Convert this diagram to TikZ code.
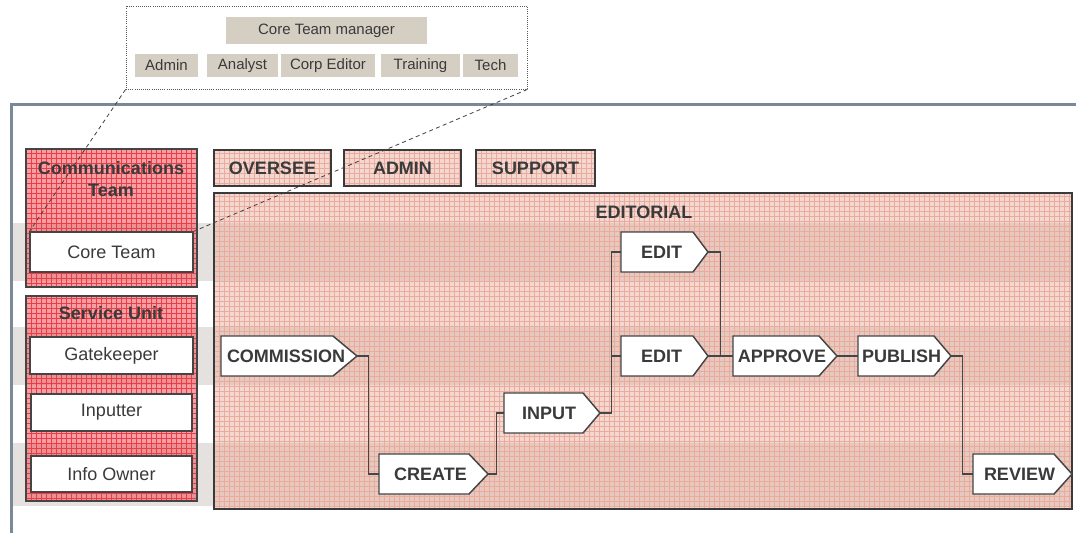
\documentclass[tikz,border=0pt]{standalone}
\usepackage{fontspec}
\setmainfont{Liberation Sans}
\usetikzlibrary{fit}
\definecolor{txt}{HTML}{3A3A3A}
\definecolor{boxline}{HTML}{454545}
\definecolor{frameblue}{HTML}{7A8898}
\definecolor{bandgray}{RGB}{228,225,222}
\definecolor{redfill}{RGB}{238,80,90}
\definecolor{redgrid}{RGB}{236,60,70}
\definecolor{pinkfill}{RGB}{232,178,164}
\definecolor{pinkgrid}{RGB}{236,170,155}
\definecolor{beigefill}{RGB}{213,207,195}
\newcommand\procn[6]{%
  \filldraw[procline] (#2,#5) -- (#3,#5) -- (#4,#5+20) -- (#3,#5+40) -- (#2,#5+40) -- cycle;
  \node[fit={(#2,#5) (#4,#5+40)}, inner sep=0pt] (#1) {};
  \node[proclabel] at ({(#2+#4)/2-3},#5+20) {#6};
}
\newcommand\boxtext[3]{\node[#1] at (#2.center) {#3};}
\tikzset{
  redbox/.style={fill=redfill, fill opacity=0.55, draw=boxline, draw opacity=1, line width=0.8pt, inner sep=0pt,
    path picture={\draw[redgrid, line width=0.3pt, step=3.75pt] (path picture bounding box.south west) grid (path picture bounding box.north east);}},
  pinkbox/.style={fill=pinkfill, fill opacity=0.5, draw=txt, draw opacity=1, line width=2.2pt, inner sep=0pt,
    path picture={\draw[pinkgrid, line width=0.3pt, step=3.75pt] (path picture bounding box.south west) grid (path picture bounding box.north east);}},
  wbox/.style={fill=white, draw=boxline, line width=0.9pt, inner sep=0pt},
  wtext/.style={font=\fontsize{13.5}{16}\selectfont, text=txt, inner sep=0pt},
  btext/.style={font=\fontsize{13.5}{16}\selectfont\bfseries, text=txt, inner sep=0pt},
  title/.style={font=\fontsize{13.5}{16.5}\selectfont\bfseries, text=txt, align=center, inner sep=0pt},
  procline/.style={fill=white, draw=boxline, line width=1.1pt, line join=miter},
  proclabel/.style={font=\fontsize{13.5}{16}\selectfont\bfseries, text=txt, inner sep=0pt},
  conn/.style={draw=boxline, line width=0.9pt},
  beige/.style={fill=beigefill, draw=none, inner sep=0pt},
  stext/.style={font=\fontsize{11.25}{13}\selectfont, text=txt, inner sep=0pt},
  dotbox/.style={draw=black!65, densely dotted, line width=0.6pt, inner sep=0pt},
  dashline/.style={draw=black!75, line width=0.6pt, dash pattern=on 3pt off 2.5pt},
}
\begin{document}
\begin{tikzpicture}[x=0.75pt,y=-0.75pt]
\useasboundingbox (0,0) rectangle (1076,533);
\fill[white] (0,0) rectangle (1076,533);
% bands
\fill[bandgray] (13,223) rectangle (1073,281);
\fill[bandgray] (13,327) rectangle (1073,385);
\fill[bandgray] (13,443) rectangle (1073,506);
% frame
\draw[frameblue, line width=2.2pt] (11.5,533) -- (11.5,104.5) -- (1076,104.5);
% left red boxes
\node[redbox, fit={(26,149) (197,287)}] (comm) {};
\node[title] (commtitle) at (111,179) {Communications\\Team};
\node[redbox, fit={(26,296) (197,501)}] (svc) {};
\node[title] (svctitle) at (111,313) {Service Unit};
\node[wbox, fit={(30,232) (193,272)}] (core) {};
\boxtext{wtext}{core}{Core Team}
\node[wbox, fit={(30,337) (193,374)}] (gate) {};
\boxtext{wtext}{gate}{Gatekeeper}
\node[wbox, fit={(31,394) (192,431)}] (inp) {};
\boxtext{wtext}{inp}{Inputter}
\node[wbox, fit={(31,456) (192,492)}] (info) {};
\boxtext{wtext}{info}{Info Owner}
% top boxes
\node[pinkbox, fit={(214,150) (331,186)}] (oversee) {};
\boxtext{btext}{oversee}{OVERSEE}
\node[pinkbox, fit={(344,150) (461,186)}] (admin) {};
\boxtext{btext}{admin}{ADMIN}
\node[pinkbox, fit={(476,150) (595,186)}] (support) {};
\boxtext{btext}{support}{SUPPORT}
\node[pinkbox, fit={(214,193) (1072,509)}] (editorial) {};
\node[title] (edtitle) at (644,212) {EDITORIAL};
% process
\procn{commission}{221}{333}{357}{336}{COMMISSION}
\procn{create}{379}{469}{488}{454}{CREATE}
\procn{input}{504}{583}{600}{393}{INPUT}
\procn{editA}{621}{693}{708}{232}{EDIT}
\procn{editB}{621}{693}{708}{336}{EDIT}
\procn{approve}{733}{819}{837}{336}{APPROVE}
\procn{publish}{858}{934}{951}{336}{PUBLISH}
\procn{review}{973}{1054}{1072}{454}{REVIEW}
% connectors
\draw[conn] (commission.east) -- ++(11,0) |- (create.west);
\draw[conn] (create.east) -- ++(8.5,0) |- (input.west);
\draw[conn] (input.east) -- ++(11,0) |- (editA.west);
\draw[conn] (input.east) -- ++(11,0) |- (editB.west);
\draw[conn] (editA.east) -- ++(12.5,0) |- (approve.west);
\draw[conn] (editB.east) -- (approve.west);
\draw[conn] (approve.east) -- (publish.west);
\draw[conn] (publish.east) -- ++(11,0) |- (review.west);
% top detail box
\node[dotbox, fit={(126,6) (527,89)}] (corebox) {};
\node[beige, fit={(226,17) (427,44)}] (mgr) {};
\boxtext{stext}{mgr}{Core Team manager}
\node[beige, fit={(135,54) (198,77)}] (bAdmin) {};
\boxtext{stext}{bAdmin}{Admin}
\node[beige, fit={(207,54) (278,77)}] (bAnalyst) {};
\boxtext{stext}{bAnalyst}{Analyst}
\node[beige, fit={(281,54) (375,77)}] (bCorp) {};
\boxtext{stext}{bCorp}{Corp Editor}
\node[beige, fit={(381,54) (460,77)}] (bTraining) {};
\boxtext{stext}{bTraining}{Training}
\node[beige, fit={(463,54) (518,77)}] (bTech) {};
\boxtext{stext}{bTech}{Tech}
% dashed leaders
\draw[dashline] (corebox.south west) -- (core.north west);
\draw[dashline] (corebox.south east) -- (core.north east);
\end{tikzpicture}
\end{document}
